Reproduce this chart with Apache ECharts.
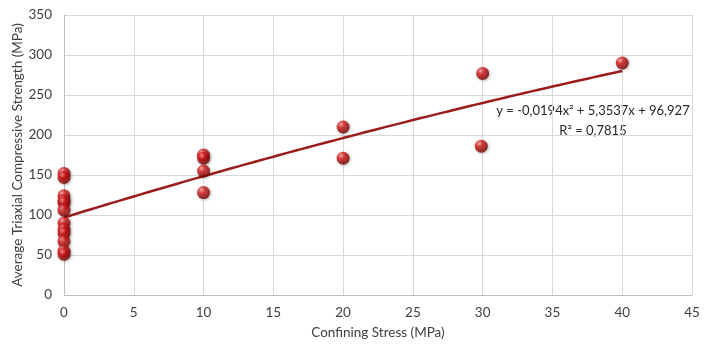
<!DOCTYPE html>
<html><head><meta charset="utf-8">
<script src="https://cdn.jsdelivr.net/npm/echarts@6/dist/echarts.min.js"></script>
<style>html,body{margin:0;padding:0;background:#fff}#c{width:709px;height:350px}</style>
</head><body><div id="c"></div>
<script>
const confiningStress = [0,0,0,0,0,0,0,0,0,0,0,0, 10,10,10,10, 20,20, 30,29.9, 40];
const strength =        [152,147,124,118,115,106,90,82,77,67,55,51, 175,171,155,128, 210,171, 277,186, 290];
const trendCoeffs = [-0.0194, 5.3537, 96.927]; // from displayed equation
const trendRange = [0, 40];
const xTicks = [0,5,10,15,20,25,30,35,40,45];
const yTicks = [0,50,100,150,200,250,300,350];
const equationText = 'y = -0,0194x² + 5,3537x + 96,927';
const r2Text = 'R² = 0,7815';

const pts = confiningStress.map((x,i)=>[x,strength[i]]);
const trend = [];
for (let x = trendRange[0]; x <= trendRange[1]; x += 1) {
  trend.push([x, trendCoeffs[0]*x*x + trendCoeffs[1]*x + trendCoeffs[2]]);
}
const font = 'Lato, "Open Sans", sans-serif';
const chart = echarts.init(document.getElementById('c'));
chart.setOption({
  animation:false,
  grid:{left:64,right:17,top:15,bottom:55,containLabel:false,outerBoundsMode:'none'},
  xAxis:{type:'value',min:0,max:45,interval:5,
    name:'Confining Stress (MPa)',nameLocation:'middle',nameGap:31,nameMoveOverlap:false,
    nameTextStyle:{color:'#404040',fontSize:13.5,fontFamily:font},
    axisLine:{lineStyle:{color:'#bfbfbf'}},axisTick:{show:false},
    axisLabel:{color:'#404040',fontSize:13.5,fontFamily:font,margin:11},
    splitLine:{lineStyle:{color:'#d9d9d9'}}},
  yAxis:{type:'value',min:0,max:350,interval:50,
    name:'Average Triaxial Compressive Strength (MPa)',nameLocation:'middle',nameGap:39,nameMoveOverlap:false,
    nameTextStyle:{color:'#404040',fontSize:13.5,fontFamily:font},
    axisLine:{show:true,lineStyle:{color:'#bfbfbf'}},axisTick:{show:false},
    axisLabel:{color:'#404040',fontSize:13.5,fontFamily:font,margin:12},
    splitLine:{lineStyle:{color:'#d9d9d9'}}},
  series:[
    {type:'line',data:trend,showSymbol:false,smooth:true,z:2,
      lineStyle:{color:'#9b1c1c',width:2.5}},
    {type:'scatter',data:pts,symbolSize:13,z:3,
      itemStyle:{color:new echarts.graphic.RadialGradient(0.35,0.3,0.75,[
        {offset:0,color:'#ff9a9a'},{offset:0.35,color:'#d41a1a'},{offset:1,color:'#6e0000'}]),
        shadowColor:'rgba(0,0,0,0.35)',shadowBlur:3,shadowOffsetX:1,shadowOffsetY:1}}
  ],
  graphic:[
    {type:'text',x:593,y:104,style:{text:equationText,fill:'#262626',font:'13px '+font,textAlign:'center'}},
    {type:'text',x:593,y:124,style:{text:r2Text,fill:'#262626',font:'13px '+font,textAlign:'center'}}
  ]
});
</script></body></html>
